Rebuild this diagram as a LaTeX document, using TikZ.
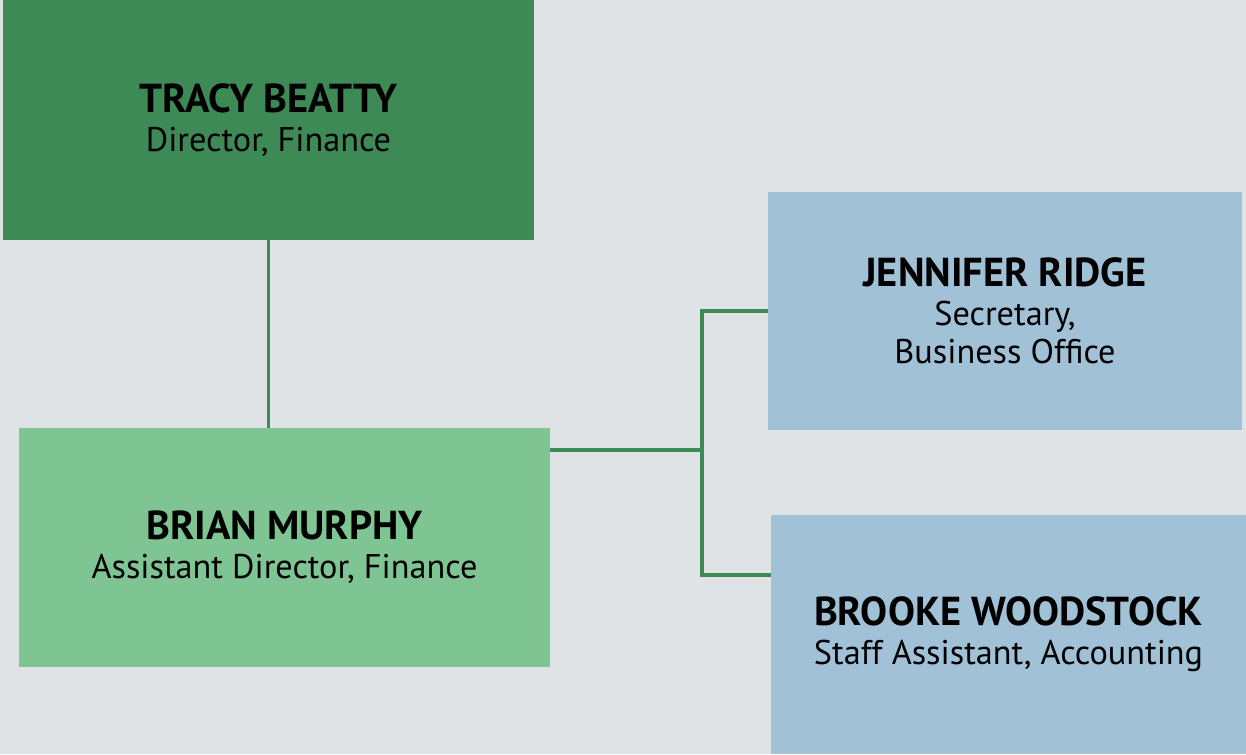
\documentclass[tikz,border=0pt]{standalone}
\usepackage{fontspec}
\setmainfont{PT Sans}
\definecolor{bgrey}{HTML}{E0E3E6}
\definecolor{dgreen}{HTML}{3E8A56}
\definecolor{lgreen}{HTML}{7FC493}
\definecolor{lblue}{HTML}{A1C1D7}
\newcommand{\pname}[1]{{\fontsize{23}{22}\selectfont\bfseries #1}}
\begin{document}
\begin{tikzpicture}[x=0.02cm,y=-0.02cm]

      \fill[bgrey] (0,0) rectangle (1246,754);
      \useasboundingbox (0,0) rectangle (1246,754);

      \begin{scope}[every node/.style={rectangle,inner sep=0pt,align=center,text=black,
          font=\fontsize{19.5}{22}\selectfont}]
        \node[fill=dgreen,minimum width=531*0.02cm,minimum height=240*0.02cm] (tracy) at (268.5,120)
          {\pname{TRACY BEATTY}\\Director, Finance};
        \node[fill=lgreen,minimum width=531*0.02cm,minimum height=239*0.02cm] (brian) at (284.5,547.5)
          {\pname{BRIAN MURPHY}\\Assistant Director, Finance};
        \node[fill=lblue,minimum width=474*0.02cm,minimum height=238*0.02cm] (jennifer) at (1005,311)
          {\pname{JENNIFER RIDGE}\\Secretary,\\Business Office};
        \node[fill=lblue,minimum width=475*0.02cm,minimum height=239*0.02cm] (brooke) at (1008.5,634.5)
          {\pname{BROOKE WOODSTOCK}\\Staff Assistant, Accounting};
      \end{scope}

      \coordinate (bus) at (702,450);
      \coordinate (bustop) at (702,311);
      \coordinate (busbot) at (702,575);

      \begin{scope}[every path/.style={draw=dgreen,line width=2.2pt}]
        \path (tracy.south) -- (tracy.south |- brian.north);
        \path (brian.east |- bus) -- (bus);
        \path (jennifer.west) -- (bustop) -- (busbot) -- (brooke.west |- busbot);
      \end{scope}

    \end{tikzpicture}
\end{document}
